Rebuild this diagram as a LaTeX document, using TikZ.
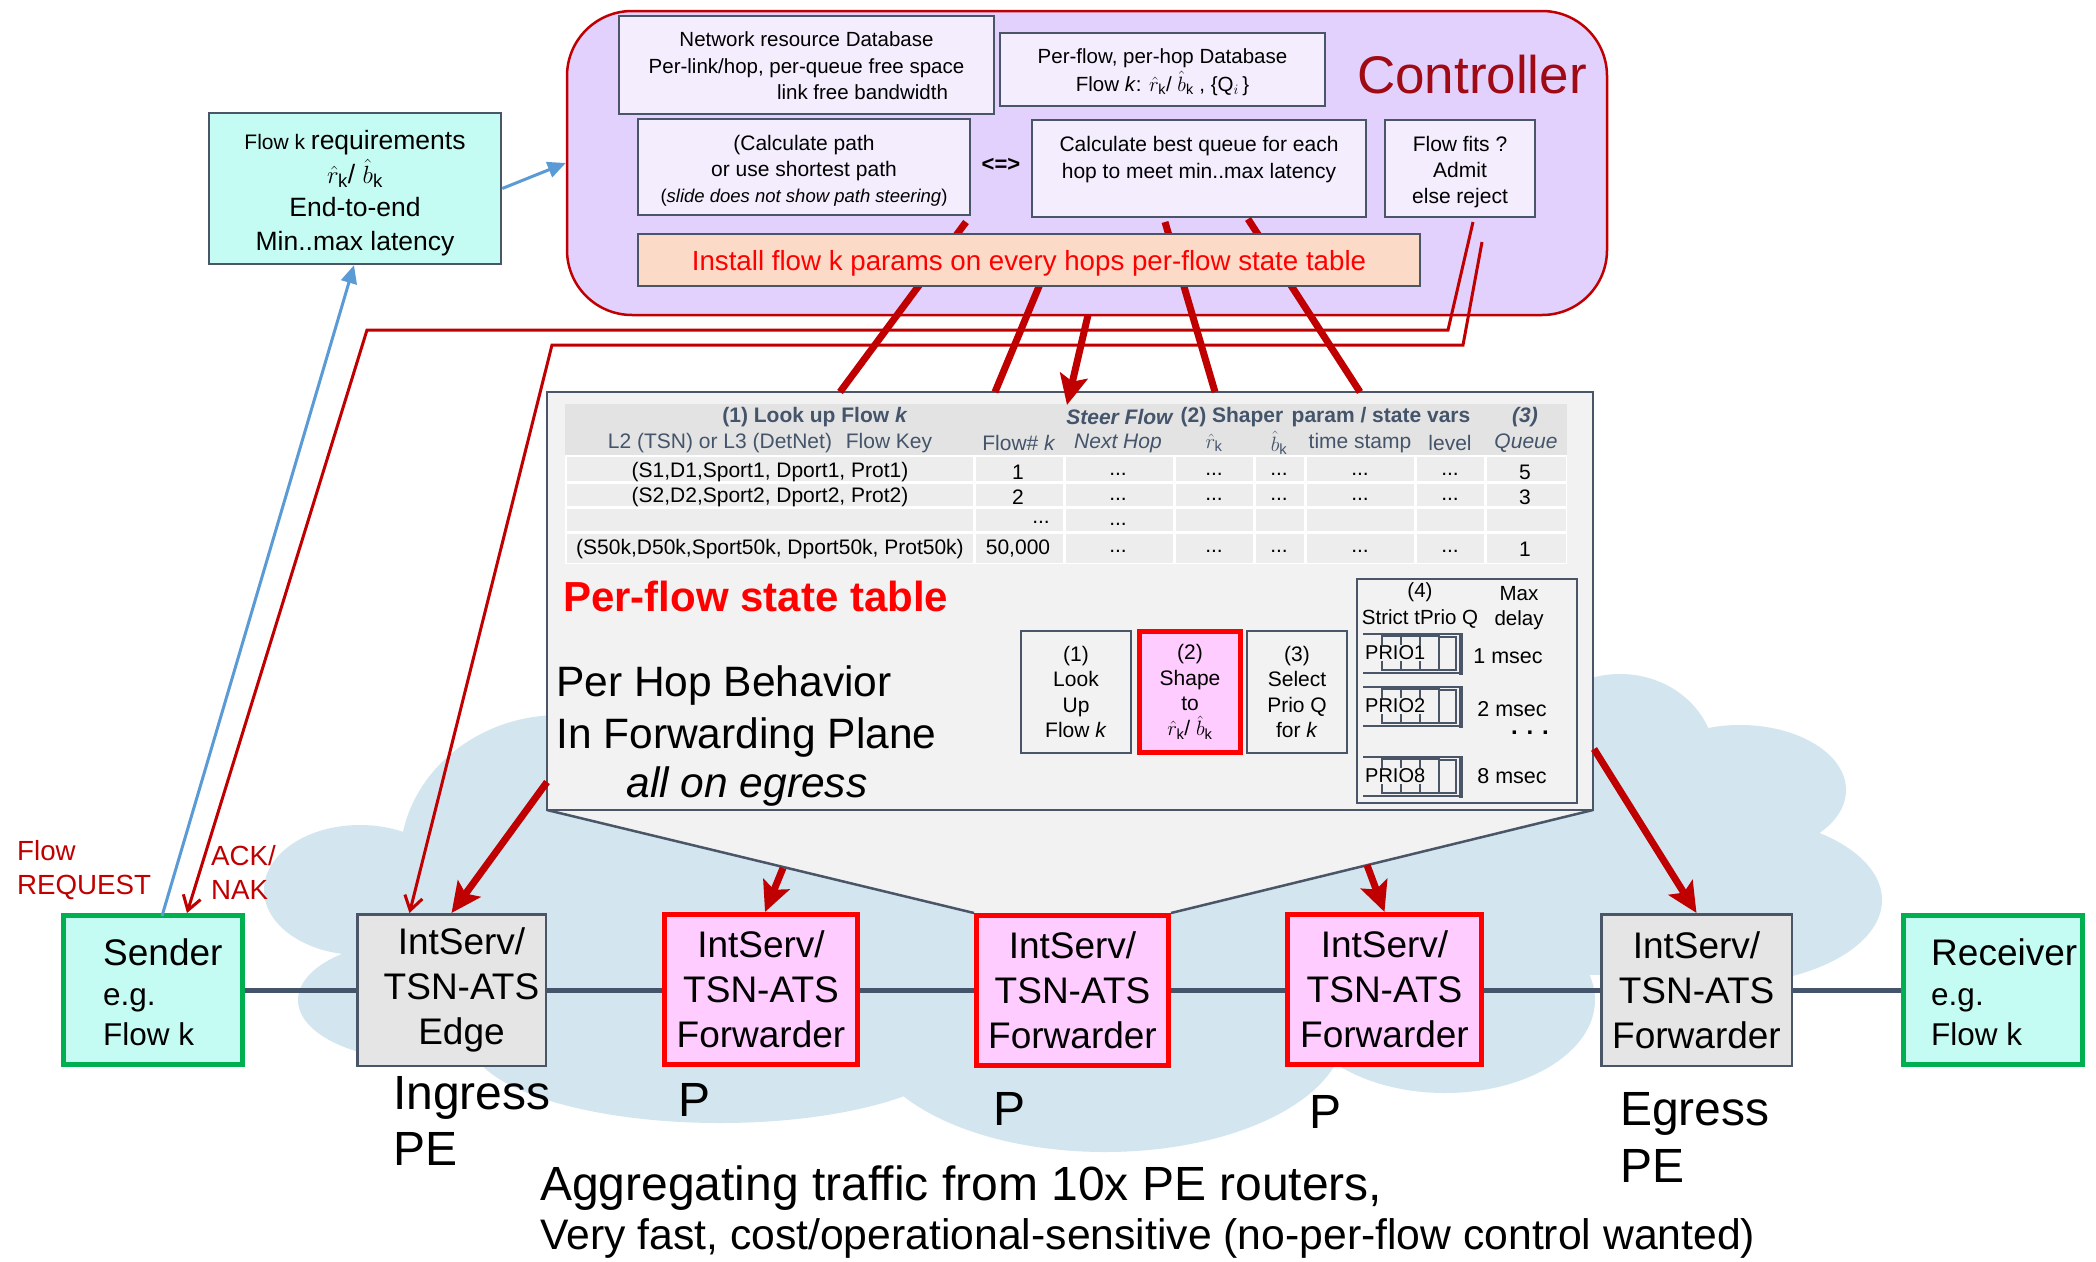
\documentclass[tikz,border=0pt]{standalone}
\usepackage{fontspec}
\setmainfont{Liberation Sans}
\usetikzlibrary{arrows.meta,calc,backgrounds}
\definecolor{lav}{RGB}{226,209,253}
\definecolor{ilav}{RGB}{244,237,254}
\definecolor{dred}{RGB}{192,0,0}
\definecolor{ctrltxt}{RGB}{160,10,20}
\definecolor{slate}{RGB}{74,85,104}
\definecolor{hdrtxt}{RGB}{68,84,106}
\definecolor{cyanf}{RGB}{196,252,243}
\definecolor{greenb}{RGB}{0,176,80}
\definecolor{grayf}{RGB}{229,229,229}
\definecolor{pinkf}{RGB}{255,204,255}
\definecolor{peach}{RGB}{252,218,200}
\definecolor{cloudc}{RGB}{211,230,240}
\definecolor{panelc}{RGB}{242,242,242}
\definecolor{hdrc}{RGB}{227,227,227}
\definecolor{cellc}{RGB}{237,237,237}
\definecolor{linkc}{RGB}{68,84,106}
\definecolor{bluec}{RGB}{91,155,213}
\newcommand\fsz[2]{\fontsize{#1}{#2}\selectfont}
\begin{document}
\begin{tikzpicture}[x=1pt,y=-1pt,
 txt/.style={inner sep=0pt, align=center},
 ibox/.style={draw=slate, line width=2.5pt, fill=ilav, inner sep=0pt},
 tt/.style={inner sep=0pt, font=\fsz{21}{25}},
 th/.style={inner sep=0pt, font=\fsz{21}{25}, text=hdrtxt},
 thickred/.style={draw=dred, line width=7pt},
 bigtip/.style={-{Stealth[length=30pt,width=28pt,inset=6pt]}},
 thinred/.style={draw=dred, line width=3pt, -{Straight Barb[length=14pt,width=18pt]}},
 bluel/.style={draw=bluec, line width=3pt, -{Triangle[length=18pt,width=16pt]}},
 fwd/.style={draw=red, line width=5pt, fill=pinkf, minimum height=150pt, inner sep=0pt, align=center, font=\fsz{37}{45}},
 gbox/.style={draw=slate, line width=2.5pt, fill=grayf, minimum height=151.5pt, inner sep=0pt, align=center, font=\fsz{37}{45}},
 endp/.style={draw=greenb, line width=5pt, fill=cyanf, minimum width=179pt, minimum height=149pt, inner sep=0pt},
 sbox/.style={draw=slate, line width=2.5pt, fill=panelc, inner sep=0pt, align=center, font=\fsz{21}{25.3}},
]
\useasboundingbox (0,0) rectangle (2096,1261);

% ---------------- Controller ----------------
\node[draw=dred, line width=2.5pt, fill=lav, rounded corners=65pt, minimum width=1040pt, minimum height=304pt, inner sep=0pt] (ctrl) at (1087,163) {};
\node[txt, text=ctrltxt, font=\fsz{53}{60}] (ctitle) at (1472,75) {Controller};

\node[ibox, minimum width=375pt, minimum height=98pt] (ndb) at (806.5,65) {};
\node[txt, font=\fsz{20.5}{26.5}] (ndbt) at (806.5,66) {Network resource Database\\Per-link/hop, per-queue free space\\\hspace*{112pt}link free bandwidth};

\node[ibox, minimum width=325pt, minimum height=73pt] (pfdb) at (1162.5,69.5) {};
\node[txt, font=\fsz{20.5}{28}] (pfdbt) at (1162.5,72) {Per-flow, per-hop Database\\Flow \textit{k}: $\hat{r}_{\mathrm{k}}$/ $\hat{b}_{\mathrm{k}}$ , \{Q$_{i}$\,\}};

\node[ibox, minimum width=332pt, minimum height=96pt] (calc) at (804,167) {};
\node[txt, font=\fsz{21}{26}] (calct) at (804,171) {(Calculate path\\or use shortest path\\{\fsz{18.5}{26}(\textit{slide does not show path steering})}};

\node[ibox, minimum width=334pt, minimum height=97pt] (cbq) at (1199,168.5) {};
\node[txt, font=\fsz{21}{27}] (cbqt) at (1199,160) {Calculate best queue for each\\hop to meet min..max latency};

\node[ibox, minimum width=150pt, minimum height=97pt] (fits) at (1460,168.5) {};
\node[txt, font=\fsz{21}{26}] (fitst) at (1460,172) {Flow fits ?\\Admit\\else reject};

\node[txt, font=\fsz{22}{26}\bfseries] (eqv) at (1001,165) {<=>};

% ---------------- Forwarding-plane panel ----------------
\fill[panelc] (547,810) -- (974,913) -- (1171,913) -- (1593,810) -- cycle;
\draw[slate, line width=2.5pt] (547,810) -- (974,913) (1171,913) -- (1593,810);
\node[draw=slate, line width=2.5pt, fill=panelc, minimum width=1046pt, minimum height=418pt, inner sep=0pt] (panel) at (1070,601) {};

\fill[hdrc] (565,404) rectangle (1567,455);
\fill[white] (565,455) rectangle (1567,564);
\foreach \xa/\xb in {565/974,974/1064,1064/1174,1174/1254,1254/1305,1305/1415,1415/1485,1485/1567}{
  \foreach \ya/\yb in {455/482,482/507,507/532,532/564}{
    \fill[cellc] (\xa+1.5,\ya+1.5) rectangle (\xb-1.5,\yb-1.5);}}

\node[th] (h1) at (815,417) {\textbf{(1) Look up Flow \textit{k}}};
\node[th] (h2) at (1120,417) {\textbf{\textit{Steer Flow}}};
\node[th] (h3) at (1232,417) {\textbf{(2) Shaper}};
\node[th] (h4) at (1381,417) {\textbf{param / state vars}};
\node[th] (h5) at (1525,417) {\textbf{\textit{(3)}}};
\node[th] (h6) at (720,443) {L2 (TSN) or L3 (DetNet)};
\node[th] (h7) at (889,443) {Flow Key};
\node[th] (h8) at (1019,443) {Flow\# \textit{k}};
\node[th] (h9) at (1118,443) {\textit{Next Hop}};
\node[th] (h10) at (1214,443) {$\hat{r}_{\mathrm{k}}$};
\node[th] (h11) at (1279,443) {$\hat{b}_{\mathrm{k}}$};
\node[th] (h12) at (1360,443) {time stamp};
\node[th] (h13) at (1450,443) {level};
\node[th] (h14) at (1526,443) {\textit{Queue}};

\node[tt] (k1) at (770,472) {(S1,D1,Sport1, Dport1, Prot1)};
\node[tt] (n1) at (1018,472) {1};
\node[tt] (q1) at (1525,472) {5};
\node[tt] (k2) at (770,497) {(S2,D2,Sport2, Dport2, Prot2)};
\node[tt] (n2) at (1018,497) {2};
\node[tt] (q2) at (1525,497) {3};
\node[tt] (d3a) at (1041,522) {...};
\node[tt] (d3b) at (1118,524) {...};
\node[tt] (k4) at (770,549) {(S50k,D50k,Sport50k, Dport50k, Prot50k)};
\node[tt] (n4) at (1018,549) {50,000};
\node[tt] (q4) at (1525,549) {1};
\foreach \yy/\r in {472/a,497/b,549/c}{
  \foreach \xx/\c in {1118/1,1214/2,1279/3,1360/4,1450/5}{
    \node[tt] (dot\r\c) at (\xx,\yy+2) {...};}}

\node[txt, anchor=west, text=red, font=\fsz{42}{48}\bfseries] (pfst) at (563,596) {Per-flow state table};
\node[txt, anchor=west, font=\fsz{42.5}{50}] (phb1) at (556,686) {Per Hop Behavior};
\node[txt, anchor=west, font=\fsz{42.5}{50}] (phb2) at (556,738) {In Forwarding Plane};
\node[txt, font=\fsz{42.5}{50}\itshape] (phb3) at (747,787) {all on egress};

\node[sbox, minimum width=110pt, minimum height=122pt] (s1) at (1076,692) {(1)\\Look\\Up\\Flow \textit{k}};
\node[sbox, draw=red, line width=5pt, fill=pinkf, minimum width=101pt, minimum height=121pt] (s2) at (1190,692) {(2)\\Shape\\to\\$\hat{r}_{\mathrm{k}}$/ $\hat{b}_{\mathrm{k}}$};
\node[sbox, minimum width=100pt, minimum height=122pt] (s3) at (1297,692) {(3)\\Select\\Prio Q\\for \textit{k}};

\node[draw=slate, line width=2.5pt, fill=panelc, minimum width=220pt, minimum height=224pt, inner sep=0pt] (qbox) at (1467,691) {};
\node[txt, font=\fsz{20.5}{27}] (q4t) at (1420,606) {(4)\\Strict tPrio Q};
\node[txt, font=\fsz{20.5}{25}] (mdt) at (1519,608) {Max\\delay};
\foreach \y/\n in {634/1,687/2,757/8}{
  \draw[slate, line width=2pt] (1363,\y) -- (1460,\y) (1363,\y+39) -- (1460,\y+39);
  \foreach \xa in {1382,1401,1420}{\draw[slate, line width=2pt] (\xa,\y+2) rectangle (\xa+19,\y+36);}
  \draw[slate, line width=2pt] (1439,\y+3) rectangle (1456,\y+36);
  \draw[slate, line width=4pt] (1461,\y-1) -- (1461,\y+41);
  \node[txt, fill=panelc, inner sep=1pt, anchor=west, font=\fsz{20}{24}] (prio\n) at (1364,\y+19) {PRIO\n};
}
\node[txt, font=\fsz{21.5}{25}] (ms1) at (1508,656) {1 msec};
\node[txt, font=\fsz{21.5}{25}] (ms2) at (1512,709) {2 msec};
\node[txt, font=\fsz{24}{25}\bfseries] (msd) at (1530,733) {. . .};
\node[txt, font=\fsz{21.5}{25}] (ms8) at (1512,776) {8 msec};

% ---------------- Controller -> panel red lines ----------------
\coordinate (l1s) at (966,222);  \coordinate (l1e) at (840,392);
\coordinate (l2s) at (1040,284); \coordinate (l2e) at (995,392);
\coordinate (l3s) at (1088,315); \coordinate (l3e) at (1067,405);
\coordinate (l4s) at (1165,222); \coordinate (l4e) at (1215,392);
\coordinate (l5s) at (1248,219); \coordinate (l5e) at (1360,392);
\draw[thickred] (l1s) -- (l1e);
\draw[thickred] (l2s) -- (l2e);
\draw[thickred, bigtip] (l3s) -- (l3e);
\draw[thickred] (l4s) -- (l4e);
\draw[thickred] (l5s) -- (l5e);

\node[draw=slate, line width=2.5pt, fill=peach, minimum width=782pt, minimum height=52pt, inner sep=0pt, text=red, font=\fsz{27.7}{32}] (inst) at (1029,260) {};
\node[txt, text=red, font=\fsz{27.7}{32}] (instt) at (1029,263) {Install flow k params on every hops per-flow state table};

% ---------------- Requirements box ----------------
\node[draw=slate, line width=2.5pt, fill=cyanf, minimum width=292pt, minimum height=151pt, inner sep=0pt] (req) at (355,188.5) {};
\node[txt, font=\fsz{26.5}{33.5}] (reqt) at (355,193) {{\fsz{21}{33.5}Flow k }requirements\\$\hat{r}_{\mathrm{k}}$/ $\hat{b}_{\mathrm{k}}$\\End-to-end\\Min..max latency};

% ---------------- Bottom row ----------------
\node[endp] (snd) at (153,990) {};
\node[txt, anchor=west, align=left, font=\fsz{31.5}{40}] (sndt) at (103,992) {{\fsz{37}{40}Sender}\\e.g.\\Flow k};
\node[gbox, minimum width=188.5pt] (edg) at (451.5,990) {\hspace*{20pt}IntServ/\\\hspace*{20pt}TSN-ATS\\\hspace*{20pt}Edge};
\node[fwd, minimum width=193pt] (fw1) at (761,989.5) {IntServ/\\TSN-ATS\\Forwarder};
\node[fwd, minimum width=192pt] (fw2) at (1072.5,990) {IntServ/\\TSN-ATS\\Forwarder};
\node[fwd, minimum width=194pt] (fw3) at (1384.5,989.5) {IntServ/\\TSN-ATS\\Forwarder};
\node[gbox, minimum width=190.5pt] (egr) at (1696.5,990) {IntServ/\\TSN-ATS\\Forwarder};
\node[endp] (rcv) at (1993,990) {};
\node[txt, anchor=west, align=left, font=\fsz{31.5}{40}] (rcvt) at (1931,992) {{\fsz{37}{40}Receiver}\\e.g.\\Flow k};

\node[txt, anchor=west, align=left, font=\fsz{48}{56}] (ingr) at (393,1121) {Ingress\\PE};
\node[txt, font=\fsz{48}{56}] (p1) at (694,1100) {P};
\node[txt, font=\fsz{48}{56}] (p2) at (1009,1109) {P};
\node[txt, font=\fsz{48}{56}] (p3) at (1325,1112) {P};
\node[txt, anchor=west, align=left, font=\fsz{48}{57}] (egl) at (1620,1137) {Egress\\PE};
\node[txt, anchor=west, font=\fsz{48}{56}] (agg1) at (540,1188) {Aggregating traffic from 10x PE routers,};
\node[txt, anchor=west, font=\fsz{42.7}{50}] (agg2) at (540,1238) {Very fast, cost/operational-sensitive (no-per-flow control wanted)};

\node[txt, anchor=west, align=left, text=dred, font=\fsz{27.7}{34}] (freq) at (17,870) {Flow\\REQUEST};
\node[txt, anchor=west, align=left, text=dred, font=\fsz{27.7}{34}] (ackn) at (211,872) {ACK/\\NAK};

% ---------------- Panel -> nodes arrows ----------------
\coordinate (a1s) at (547,782);
\coordinate (a2s) at (783,868);
\coordinate (a3s) at (1367,865);
\coordinate (a4s) at (1594,749);
\draw[thickred, bigtip] (a1s) -- (edg.north);
\draw[thickred, bigtip] (a2s) -- ($(fw1.north)+(4,0)$);
\draw[thickred, bigtip] (a3s) -- (fw3.north);
\draw[thickred, bigtip] (a4s) -- (egr.north);

% ---------------- Thin red (admission) lines ----------------
\coordinate (t1s) at (1473,222); \coordinate (t1a) at (1448,330); \coordinate (t1b) at (367,330);
\coordinate (t2s) at (1482,242); \coordinate (t2a) at (1463,345); \coordinate (t2b) at (552,345);
\draw[thinred] (t1s) -- (t1a) -- (t1b) -- ($(snd.north)+(34,0)$);
\draw[thinred] (t2s) -- (t2a) -- (t2b) -- ($(edg.north)+(-42,0)$);

% ---------------- Blue request lines ----------------
\draw[bluel] ($(snd.north)+(9,3)$) -- ($(req.south)+(-1,0)$);
\draw[bluel] (req.east) -- (ctrl.west);

% ---------------- Background: cloud and link ----------------
\begin{pgfonlayer}{background}
\fill[white] (0,0) rectangle (2096,1261);
\fill[cloudc] (560,860) ellipse [x radius=160pt, y radius=145pt]
  (360,890) ellipse [x radius=96pt, y radius=65pt]
  (420,1000) ellipse [x radius=122pt, y radius=60pt]
  (720,1040) ellipse [x radius=250pt, y radius=83pt]
  (1105,1030) ellipse [x radius=240pt, y radius=122pt]
  (1445,1000) ellipse [x radius=150pt, y radius=93pt]
  (1720,900) ellipse [x radius=162pt, y radius=85pt]
  (1740,790) ellipse [x radius=106pt, y radius=65pt]
  (1620,760) ellipse [x radius=95pt, y radius=86pt];
\fill[cloudc] (480,800) rectangle (1580,1040);
\fill[cloudc] (1580,800) rectangle (1790,975);
\draw[linkc, line width=5pt] (snd.east) -- (rcv.west);
\end{pgfonlayer}
\end{tikzpicture}
\end{document}
